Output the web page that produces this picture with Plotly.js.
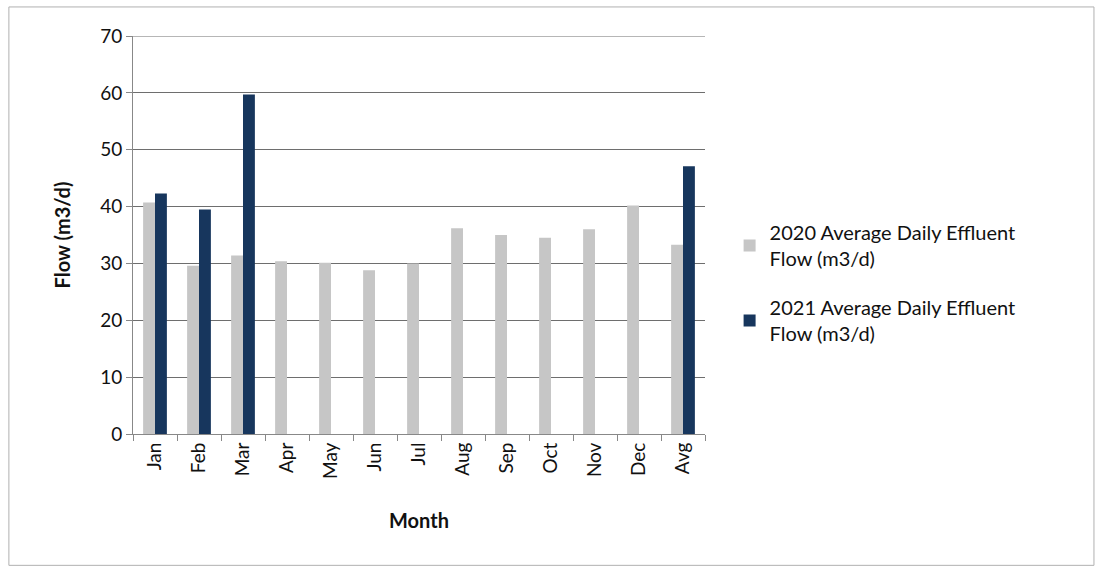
<!DOCTYPE html>
<html>
<head>
<meta charset="utf-8">
<script src="https://cdn.plot.ly/plotly-3.0.1.min.js"></script>
<style>
html,body{margin:0;padding:0;background:#fff;}
#chart{width:1095px;height:567px;}
</style>
</head>
<body>
<div id="chart"></div>
<script>
var months = ["Jan","Feb","Mar","Apr","May","Jun","Jul","Aug","Sep","Oct","Nov","Dec","Avg"];
var flow2020 = [40.7, 29.6, 31.4, 30.4, 30.1, 28.8, 30.0, 36.2, 35.0, 34.5, 36.0, 40.2, 33.3];
var flow2021 = [42.3, 39.5, 59.7, null, null, null, null, null, null, null, null, null, 47.1];
var name2020 = "2020 Average Daily Effluent<br>Flow (m3/d)";
var name2021 = "2021 Average Daily Effluent<br>Flow (m3/d)";

var font = "Lato, 'Open Sans', 'DejaVu Sans', sans-serif";

var traces = [
  {type:"bar", x:months, y:flow2020, name:name2020, legendgroup:"g2020", marker:{color:"#c6c6c6"}},
  {type:"bar", x:months, y:flow2021, name:name2021, legendgroup:"g2021", marker:{color:"#17365d"}}
];

var layout = {
  width:1095, height:567,
  paper_bgcolor:"#fff", plot_bgcolor:"#fff",
  margin:{l:133, r:390, t:36, b:133},
  barmode:"group", bargap:0.46, bargroupgap:0,
  font:{family:font, size:19, color:"#111"},
  showlegend:true,
  legend:{x:1.043, xanchor:"left", y:0.555, yanchor:"top", font:{size:20, color:"#111"}, tracegroupgap:20, itemwidth:30, traceorder:"grouped"},
  xaxis:{
    type:"category", tickson:"boundaries", ticks:"outside", ticklen:6, tickcolor:"#888",
    showline:true, linecolor:"#888", linewidth:1, showgrid:false,
    tickangle:-90, tickfont:{size:19},
    title:{text:"<b>Month</b>", font:{size:20}, standoff:36}
  },
  yaxis:{
    range:[0,70], dtick:10, ticks:"outside", ticklen:6, tickcolor:"#888",
    showline:true, linecolor:"#888", linewidth:1,
    showgrid:true, gridcolor:"#6e6e6e", gridwidth:1, zeroline:false,
    tickfont:{size:19},
    title:{text:"<b>Flow (m3/d)</b>", font:{size:20}, standoff:24}
  },
  shapes:[
    {type:"line", xref:"paper", yref:"y", x0:0, x1:1, y0:70, y1:70, line:{color:"#6e6e6e", width:1}},
    {type:"rect", xref:"paper", yref:"paper", x0:-0.217, x1:1.68, y0:-0.33, y1:1.073, line:{color:"#b0b0b0", width:1}, fillcolor:"rgba(0,0,0,0)", layer:"below"}
  ]
};

Plotly.newPlot("chart", traces, layout, {displayModeBar:false, staticPlot:true});
</script>
</body>
</html>
